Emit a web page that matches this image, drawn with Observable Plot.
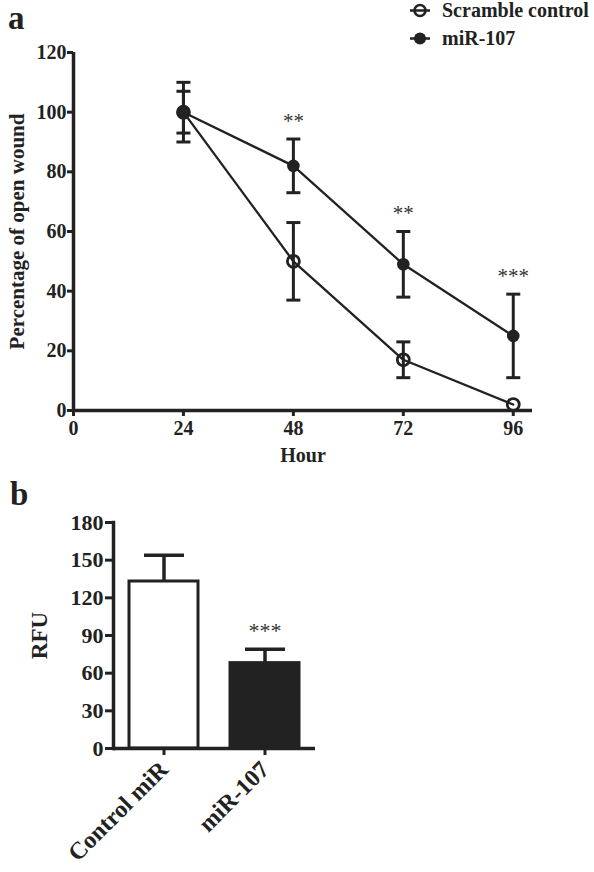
<!DOCTYPE html>
<html><head><meta charset="utf-8">
<script src="https://cdn.jsdelivr.net/npm/d3@7"></script>
<script src="https://cdn.jsdelivr.net/npm/@observablehq/plot@0.6"></script>
<style>
body{margin:0;background:#fff;}
#wrap{position:relative;width:594px;height:872px;overflow:hidden;font-family:"Liberation Serif",serif;font-weight:bold;color:#222;}
.panel{position:absolute;left:0;}
.tag{position:absolute;font-size:33px;line-height:1.107;}
.leg{position:absolute;left:408px;font-size:20px;line-height:1;white-space:nowrap;}
.leg svg{position:absolute;left:0;top:0;overflow:visible;}
.leg span{position:absolute;left:34px;top:0;}
</style></head><body>
<div id="wrap">
  <div id="panelA" class="panel" style="top:0;"></div>
  <div id="panelB" class="panel" style="top:470px;"></div>
  <div class="tag" style="left:8px;top:0px;">a</div>
  <div class="tag" style="left:10px;top:476px;">b</div>
  <div id="legend"></div>
</div>
<script>
// ---- Panel a data ----
const hours = [24, 48, 72, 96];
const scrambleMean = [100, 50, 17, 2];
const scrambleErr = [7, 13, 6, 0];
const mirMean = [100, 82, 49, 25];
const mirErr = [10, 9, 11, 14];
const sigHours = [48, 72, 96];
const sigLabels = ["**", "**", "***"];
const xTicksA = [0, 24, 48, 72, 96];
const yTicksA = [0, 20, 40, 60, 80, 100, 120];
const seriesNames = ["Scramble control", "miR-107"];

// ---- Panel b data ----
const groups = ["Control miR", "miR-107"];
const rfuMean = [133, 68];
const rfuErr = [21, 11];
const yTicksB = [0, 30, 60, 90, 120, 150, 180];
const sigB = ["***"];

const INK = "#222";
const capSymbol = (half) => ({draw(ctx) { ctx.moveTo(-half, 0); ctx.lineTo(half, 0); }});

const scramble = hours.map((h, i) => ({hour: h, mean: scrambleMean[i], err: scrambleErr[i]}));
const mir = hours.map((h, i) => ({hour: h, mean: mirMean[i], err: mirErr[i]}));
const lineData = [
  ...scramble.map(d => ({...d, series: seriesNames[0]})),
  ...mir.map(d => ({...d, series: seriesNames[1]}))
];
const errData = lineData.filter(d => d.err > 0);
const sigData = sigHours.map((h, i) => {
  const d = mir.find(m => m.hour === h);
  return {hour: h, top: d.mean + d.err, label: sigLabels[i]};
});

const baseStyle = {fontFamily: "Liberation Serif", fontWeight: "bold", color: INK, background: "transparent", overflow: "visible"};

const plotA = Plot.plot({
  width: 594, height: 470,
  marginLeft: 73, marginRight: 62, marginTop: 52, marginBottom: 60,
  x: {domain: [0, 100.2]},
  y: {domain: [0, 120]},
  style: {...baseStyle, fontSize: "20px"},
  marks: [
    Plot.axisX({ticks: xTicksA, tickSize: 6, tickPadding: 4, stroke: INK, strokeWidth: 3, fill: INK, fontSize: 20, label: null}),
    Plot.axisY({ticks: yTicksA, tickSize: 6, tickPadding: 1, stroke: INK, strokeWidth: 3, fill: INK, fontSize: 20, label: null}),
    Plot.ruleY([0], {stroke: INK, strokeWidth: 3.5}),
    Plot.ruleX([0], {stroke: INK, strokeWidth: 3.5}),
    Plot.text(["Hour"], {frameAnchor: "bottom", dy: 45, lineAnchor: "middle", textAnchor: "middle", text: d => d, fontSize: 20, fill: INK}),
    Plot.text(["Percentage of open wound"], {frameAnchor: "left", dx: -56, rotate: -90, textAnchor: "middle", lineAnchor: "middle", text: d => d, fontSize: 21, fill: INK}),
    Plot.ruleX(errData, {x: "hour", y1: d => d.mean - d.err, y2: d => d.mean + d.err, stroke: INK, strokeWidth: 3}),
    Plot.dot(errData, {x: "hour", y: d => d.mean + d.err, symbol: capSymbol(7), stroke: INK, strokeWidth: 3, fill: "none"}),
    Plot.dot(errData, {x: "hour", y: d => d.mean - d.err, symbol: capSymbol(7), stroke: INK, strokeWidth: 3, fill: "none"}),
    Plot.line(lineData, {x: "hour", y: "mean", z: "series", stroke: INK, strokeWidth: 2.3}),
    Plot.dot(scramble, {x: "hour", y: "mean", r: 6, fill: "none", stroke: INK, strokeWidth: 2.8}),
    Plot.dot(mir, {x: "hour", y: "mean", r: 6.3, fill: INK, stroke: "none"}),
    Plot.text(sigData, {x: "hour", y: "top", text: "label", dy: -18, fontSize: 21, fontWeight: "normal", fill: "#333"})
  ]
});
document.getElementById("panelA").appendChild(plotA);

// legend
const legend = document.getElementById("legend");
const legTops = [0.25, 28];
seriesNames.forEach((name, i) => {
  const item = document.createElement("div");
  item.className = "leg";
  item.style.top = legTops[i] + "px";
  const filled = i === 1;
  item.innerHTML = `<svg width="30" height="22"><line x1="2" x2="22" y1="10.5" y2="10.5" stroke="${INK}" stroke-width="2.5"/>` +
    `<circle cx="12" cy="10.5" r="${filled ? 6 : 5.5}" fill="${filled ? INK : "none"}" stroke="${INK}" stroke-width="${filled ? 0 : 2.6}"/></svg>` +
    `<span>${name}</span>`;
  legend.appendChild(item);
});

// ---- Panel b ----
const dataB = groups.map((g, i) => ({group: g, mean: rfuMean[i], err: rfuErr[i], fillc: i === 0 ? "white" : INK}));
const plotB = Plot.plot({
  width: 594, height: 402,
  marginLeft: 113, marginRight: 279, marginTop: 52, marginBottom: 124,
  x: {domain: groups, paddingInner: 0.313, paddingOuter: 0.149},
  y: {domain: [0, 180]},
  style: {...baseStyle, fontSize: "22px"},
  marks: [
    Plot.barY(dataB, {x: "group", y: "mean", fill: "fillc", stroke: INK, strokeWidth: 3}),
    Plot.ruleX(dataB, {x: "group", y1: "mean", y2: d => d.mean + d.err, stroke: INK, strokeWidth: 3.5}),
    Plot.dot(dataB, {x: "group", y: d => d.mean + d.err, symbol: capSymbol(20), stroke: INK, strokeWidth: 3.5, fill: "none"}),
    Plot.axisX({tickSize: 7, tickPadding: 10, tickRotate: -45, stroke: INK, strokeWidth: 3, fill: INK, fontSize: 24, label: null}),
    Plot.axisY({ticks: yTicksB, tickSize: 8, tickPadding: 2, stroke: INK, strokeWidth: 3, fill: INK, fontSize: 22, label: null}),
    Plot.ruleY([0], {stroke: INK, strokeWidth: 3.5}),
    Plot.frame({anchor: "left", stroke: INK, strokeWidth: 3.5}),
    Plot.text(["RFU"], {frameAnchor: "left", dx: -74, rotate: -90, textAnchor: "middle", lineAnchor: "middle", text: d => d, fontSize: 23, fill: INK}),
    Plot.text(dataB.filter(d => d.group === groups[1]), {x: "group", y: d => d.mean + d.err, text: () => sigB[0], dy: -18, fontSize: 22, fontWeight: "normal", fill: "#333"})
  ]
});
document.getElementById("panelB").appendChild(plotB);
</script>
</body></html>
